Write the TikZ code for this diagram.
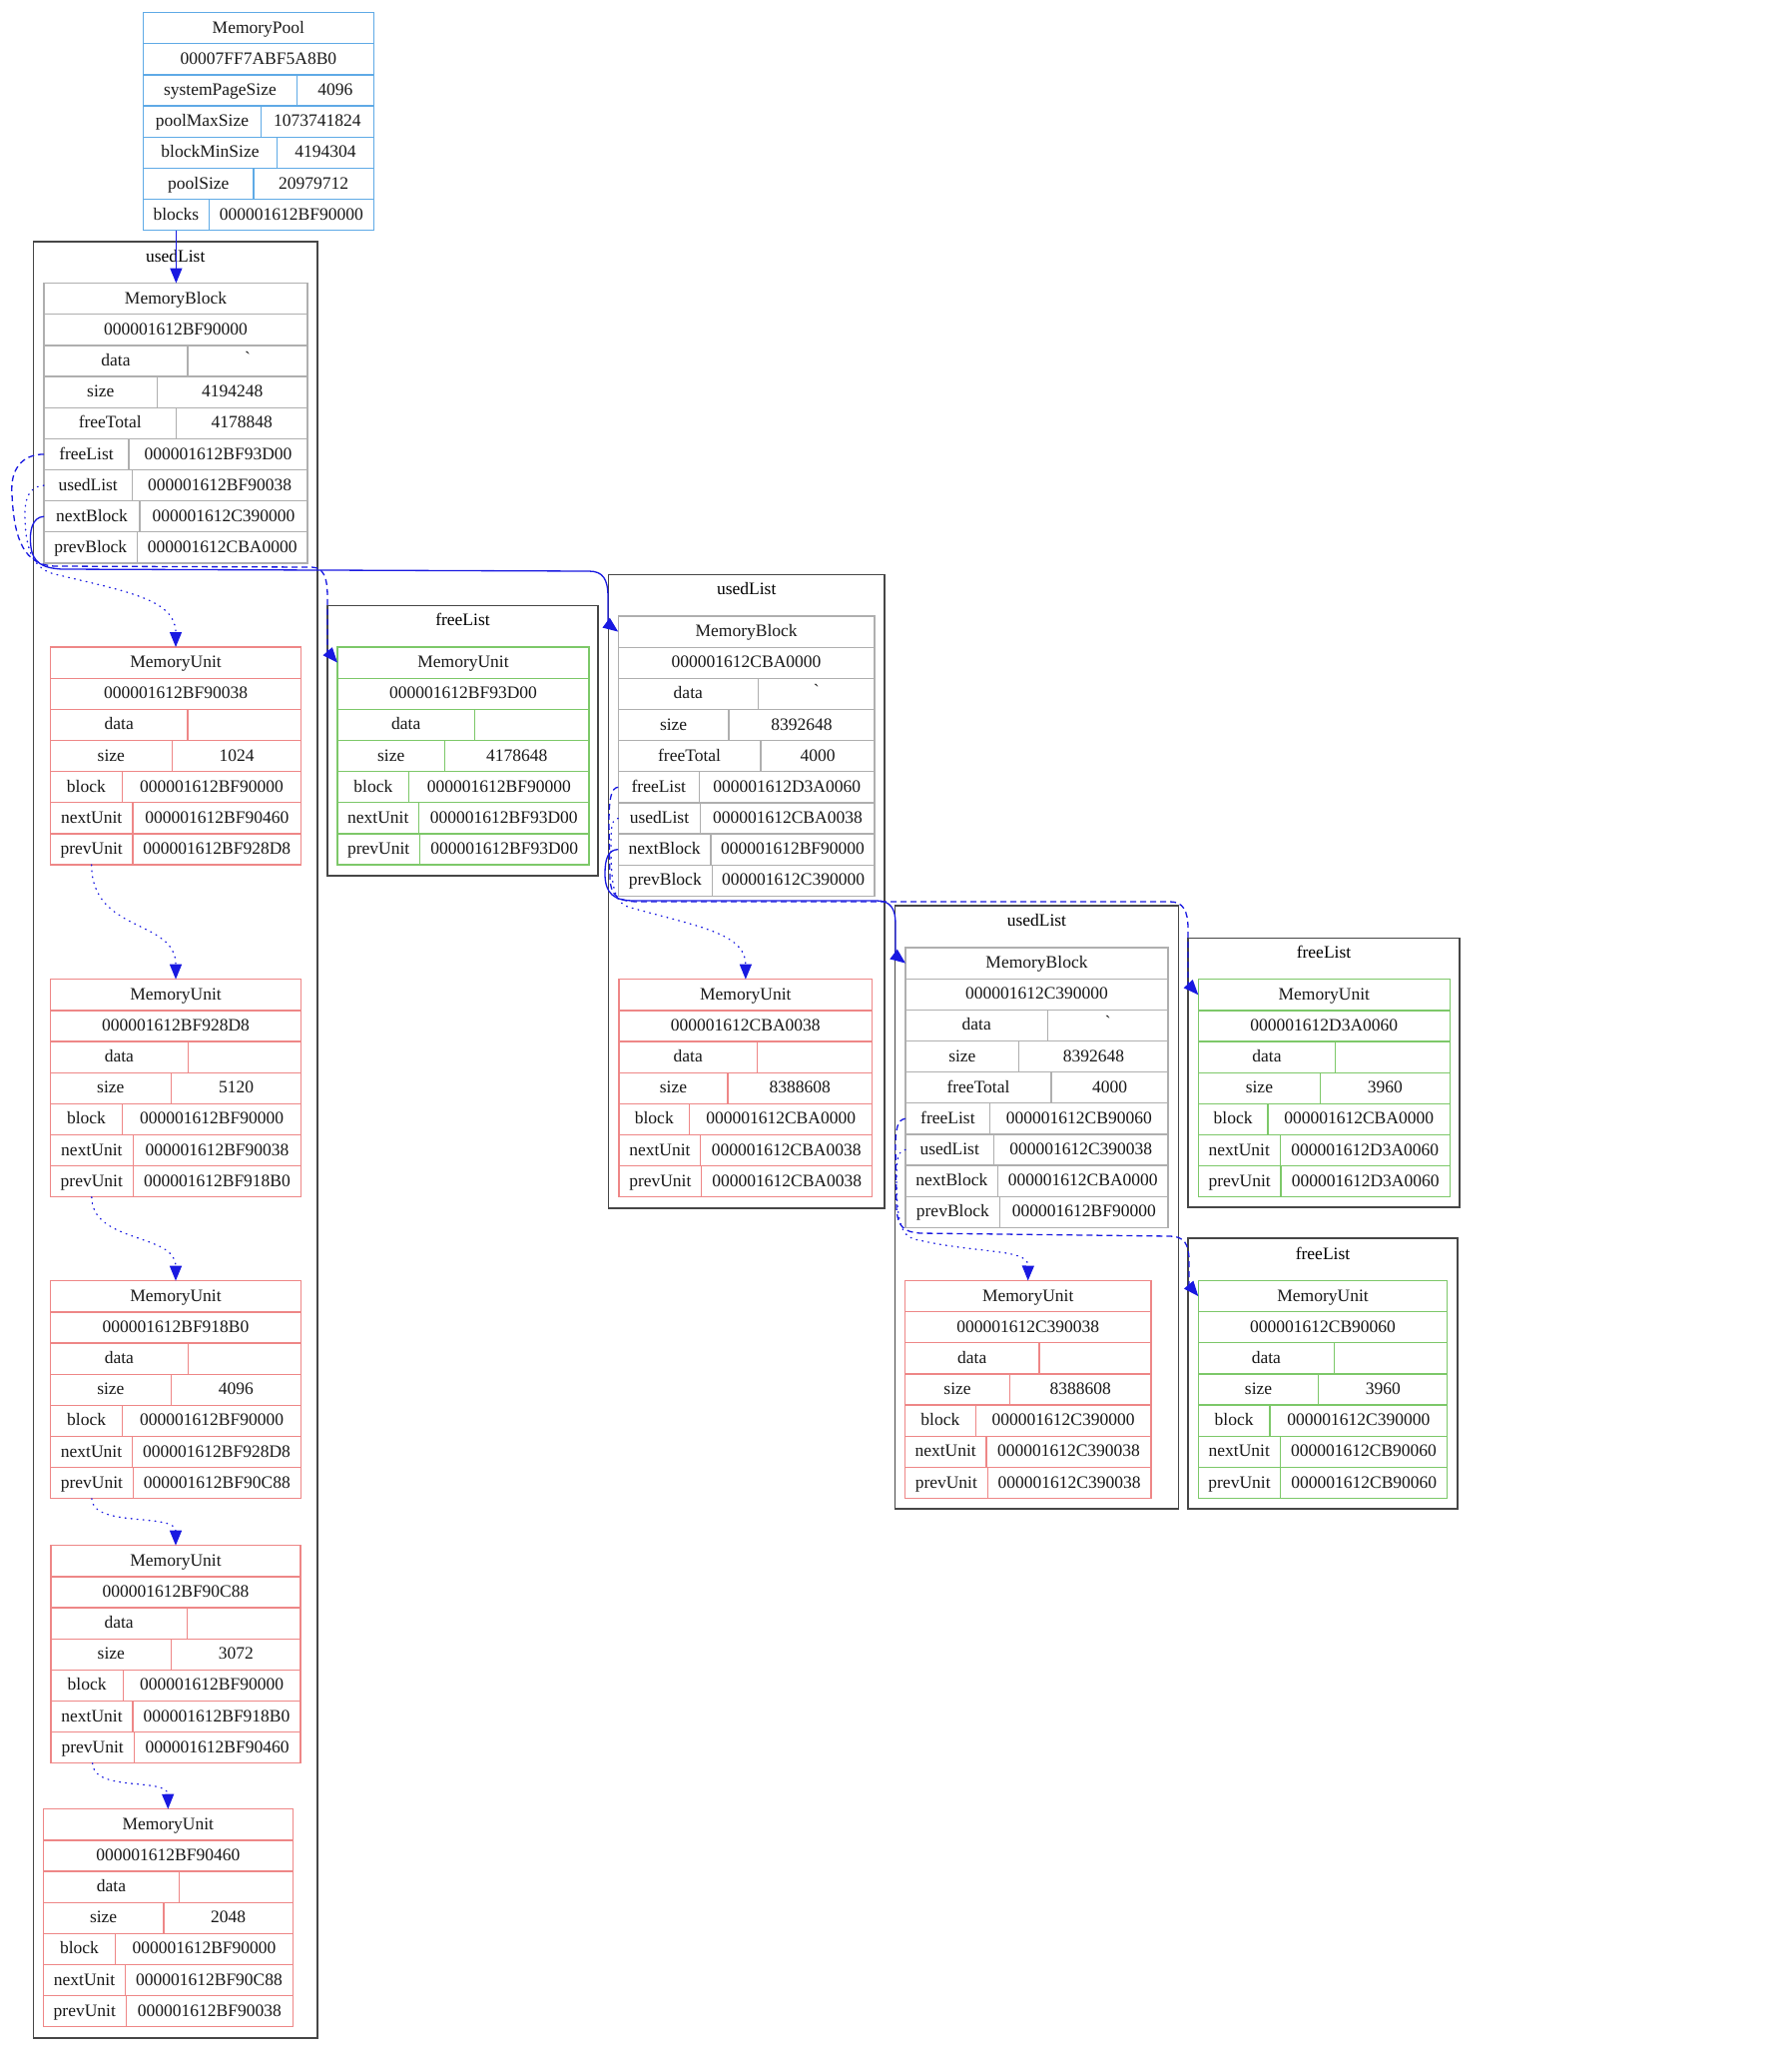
\documentclass[tikz,border=0pt]{standalone}
\usepackage{fontspec}
\setmainfont{Liberation Serif}
\usetikzlibrary{arrows.meta}
\definecolor{poolc}{RGB}{95,170,230}
\definecolor{grayc}{RGB}{175,175,175}
\definecolor{redc}{RGB}{238,135,135}
\definecolor{greenc}{RGB}{125,200,105}
\definecolor{clusc}{RGB}{70,70,70}
\definecolor{edgec}{RGB}{25,25,225}
\newcommand\gravemark{\raisebox{0.3ex}{\XeTeXglyph\XeTeXcharglyph"60\relax}}
\newcommand\recset[4]{\def\rxa{#1}\def\rxb{#2}\def\rtop{#3}\tikzset{cur/.style={draw=#4}}}
\newcommand\rowfull[3]{%
  \pgfmathsetmacro\yy{\rtop+#2*31.15}\pgfmathsetmacro\wa{(\rxb-\rxa)*0.5}%
  \node[cellbox,cur,minimum width=\wa pt,anchor=north west] (#1) at (\rxa,\yy) {#3};}
\newcommand\rowpair[5]{%
  \pgfmathsetmacro\yy{\rtop+#2*31.15}\pgfmathsetmacro\wa{(#3-\rxa)*0.5}\pgfmathsetmacro\wb{(\rxb-#3)*0.5}%
  \node[cellbox,cur,minimum width=\wa pt,anchor=north west] (#1l) at (\rxa,\yy) {#4};
  \node[cellbox,cur,minimum width=\wb pt,anchor=north west] (#1v) at (#3,\yy) {#5};}
\begin{document}
\begin{tikzpicture}[x=0.5pt,y=-0.5pt,
  font=\fontsize{8.75}{10}\selectfont,
  cellbox/.style={line width=0.65pt,inner sep=0pt,outer sep=0pt,minimum height=15.575pt,
    text height=6.6pt,text depth=1.5pt,text=black!90},
  clus/.style={draw=clusc,line width=0.75pt},
  lab/.style={text height=6.6pt,text depth=1.5pt,inner sep=0pt},
  conn/.style={draw=edgec,line width=0.65pt,-{Triangle[length=7.5pt,width=6pt]}},
  dashedconn/.style={conn,dash pattern=on 3pt off 2pt},
  dottedconn/.style={conn,dash pattern=on 0.4pt off 2.6pt,line cap=round}]
\fill[white] (0,0) rectangle (1794,2067);
\useasboundingbox (0,0) rectangle (1794,2067);

% clusters
\draw[clus] (33.5,242) rectangle (318,2041);
\node[lab] (c1lab) at (175.75,257) {usedList};
\draw[clus] (328,606.7) rectangle (599,877);
\node[lab] (c2lab) at (463.5,621.7) {freeList};
\draw[clus] (609.4,575.4) rectangle (886,1210);
\node[lab] (c3lab) at (747.7,590) {usedList};
\draw[clus] (896.4,907) rectangle (1180.4,1511);
\node[lab] (c4lab) at (1038.4,922.6) {usedList};
\draw[clus] (1190,939.4) rectangle (1462,1209);
\node[lab] (c5lab) at (1326,954) {freeList};
\draw[clus] (1190,1240) rectangle (1460,1511);
\node[lab] (c6lab) at (1325,1256) {freeList};

% MemoryPool
\recset{143.5}{374.3}{12.6}{poolc}
\rowfull{mp}{0}{MemoryPool}
\rowfull{mpa}{1}{00007FF7ABF5A8B0}
\rowpair{mpsp}{2}{297.4}{systemPageSize}{4096}
\rowpair{mpmax}{3}{261.4}{poolMaxSize}{1073741824}
\rowpair{mpbmin}{4}{277.5}{blockMinSize}{4194304}
\rowpair{mpps}{5}{254.1}{poolSize}{20979712}
\rowpair{mpbl}{6}{209.3}{blocks}{000001612BF90000}

% MemoryBlock 1
\recset{44}{308}{283.6}{grayc}
\rowfull{mb1}{0}{MemoryBlock}
\rowfull{mb1a}{1}{000001612BF90000}
\rowpair{mb1d}{2}{187.9}{data}{\gravemark}
\rowpair{mb1s}{3}{157.7}{size}{4194248}
\rowpair{mb1ft}{4}{176.4}{freeTotal}{4178848}
\rowpair{mb1fl}{5}{129}{freeList}{000001612BF93D00}
\rowpair{mb1ul}{6}{132.4}{usedList}{000001612BF90038}
\rowpair{mb1nb}{7}{140}{nextBlock}{000001612C390000}
\rowpair{mb1pb}{8}{137.4}{prevBlock}{000001612CBA0000}

% MemoryUnit 1
\recset{50.4}{301.7}{648}{redc}
\rowfull{mu1}{0}{MemoryUnit}
\rowfull{mu1a}{1}{000001612BF90038}
\rowpair{mu1d}{2}{188}{data}{}
\rowpair{mu1s}{3}{172.3}{size}{1024}
\rowpair{mu1b}{4}{122.3}{block}{000001612BF90000}
\rowpair{mu1nu}{5}{133}{nextUnit}{000001612BF90460}
\rowpair{mu1pu}{6}{133}{prevUnit}{000001612BF928D8}

% free MemoryUnit 1
\recset{338}{590}{648}{greenc}
\rowfull{mug1}{0}{MemoryUnit}
\rowfull{mug1a}{1}{000001612BF93D00}
\rowpair{mug1d}{2}{475.4}{data}{}
\rowpair{mug1s}{3}{445.5}{size}{4178648}
\rowpair{mug1b}{4}{409.8}{block}{000001612BF90000}
\rowpair{mug1nu}{5}{419.6}{nextUnit}{000001612BF93D00}
\rowpair{mug1pu}{6}{420.5}{prevUnit}{000001612BF93D00}

% MemoryBlock 3
\recset{619.2}{876}{617}{grayc}
\rowfull{mb3}{0}{MemoryBlock}
\rowfull{mb3a}{1}{000001612CBA0000}
\rowpair{mb3d}{2}{759.4}{data}{\gravemark}
\rowpair{mb3s}{3}{730}{size}{8392648}
\rowpair{mb3ft}{4}{762}{freeTotal}{4000}
\rowpair{mb3fl}{5}{700.4}{freeList}{000001612D3A0060}
\rowpair{mb3ul}{6}{701.8}{usedList}{000001612CBA0038}
\rowpair{mb3nb}{7}{712}{nextBlock}{000001612BF90000}
\rowpair{mb3pb}{8}{713.4}{prevBlock}{000001612C390000}

% MemoryUnit 2
\recset{50.4}{301.7}{980.7}{redc}
\rowfull{mu2}{0}{MemoryUnit}
\rowfull{mu2a}{1}{000001612BF928D8}
\rowpair{mu2d}{2}{188.3}{data}{}
\rowpair{mu2s}{3}{171.3}{size}{5120}
\rowpair{mu2b}{4}{122.7}{block}{000001612BF90000}
\rowpair{mu2nu}{5}{133.3}{nextUnit}{000001612BF90038}
\rowpair{mu2pu}{6}{133.3}{prevUnit}{000001612BF918B0}

% MemoryUnit of block 3
\recset{620}{873.7}{980.7}{redc}
\rowfull{mu3b}{0}{MemoryUnit}
\rowfull{mu3ba}{1}{000001612CBA0038}
\rowpair{mu3bd}{2}{758.5}{data}{}
\rowpair{mu3bs}{3}{729}{size}{8388608}
\rowpair{mu3bb}{4}{690.6}{block}{000001612CBA0000}
\rowpair{mu3bnu}{5}{701.8}{nextUnit}{000001612CBA0038}
\rowpair{mu3bpu}{6}{702.7}{prevUnit}{000001612CBA0038}

% MemoryBlock 4
\recset{907}{1170}{949}{grayc}
\rowfull{mb4}{0}{MemoryBlock}
\rowfull{mb4a}{1}{000001612C390000}
\rowpair{mb4d}{2}{1049.4}{data}{\gravemark}
\rowpair{mb4s}{3}{1020.8}{size}{8392648}
\rowpair{mb4ft}{4}{1053}{freeTotal}{4000}
\rowpair{mb4fl}{5}{991.8}{freeList}{000001612CB90060}
\rowpair{mb4ul}{6}{995.5}{usedList}{000001612C390038}
\rowpair{mb4nb}{7}{999.7}{nextBlock}{000001612CBA0000}
\rowpair{mb4pb}{8}{1001.7}{prevBlock}{000001612BF90000}

% free MemoryUnit 2
\recset{1200.3}{1452.3}{980.7}{greenc}
\rowfull{mug2}{0}{MemoryUnit}
\rowfull{mug2a}{1}{000001612D3A0060}
\rowpair{mug2d}{2}{1337.7}{data}{}
\rowpair{mug2s}{3}{1322.5}{size}{3960}
\rowpair{mug2b}{4}{1270}{block}{000001612CBA0000}
\rowpair{mug2nu}{5}{1282.2}{nextUnit}{000001612D3A0060}
\rowpair{mug2pu}{6}{1283}{prevUnit}{000001612D3A0060}

% MemoryUnit 3
\recset{50.5}{301.5}{1282.7}{redc}
\rowfull{mu3}{0}{MemoryUnit}
\rowfull{mu3a}{1}{000001612BF918B0}
\rowpair{mu3d}{2}{188.3}{data}{}
\rowpair{mu3s}{3}{171.3}{size}{4096}
\rowpair{mu3bk}{4}{122.7}{block}{000001612BF90000}
\rowpair{mu3nu}{5}{132.7}{nextUnit}{000001612BF928D8}
\rowpair{mu3pu}{6}{133.3}{prevUnit}{000001612BF90C88}

% MemoryUnit of block 4
\recset{906.4}{1153}{1282.5}{redc}
\rowfull{mu4b}{0}{MemoryUnit}
\rowfull{mu4ba}{1}{000001612C390038}
\rowpair{mu4bd}{2}{1041}{data}{}
\rowpair{mu4bs}{3}{1011.7}{size}{8388608}
\rowpair{mu4bb}{4}{977.3}{block}{000001612C390000}
\rowpair{mu4bnu}{5}{988}{nextUnit}{000001612C390038}
\rowpair{mu4bpu}{6}{989.3}{prevUnit}{000001612C390038}

% free MemoryUnit 3
\recset{1200.3}{1449.8}{1282.5}{greenc}
\rowfull{mug3}{0}{MemoryUnit}
\rowfull{mug3a}{1}{000001612CB90060}
\rowpair{mug3d}{2}{1336.4}{data}{}
\rowpair{mug3s}{3}{1320.8}{size}{3960}
\rowpair{mug3b}{4}{1272}{block}{000001612C390000}
\rowpair{mug3nu}{5}{1282.2}{nextUnit}{000001612CB90060}
\rowpair{mug3pu}{6}{1282.7}{prevUnit}{000001612CB90060}

% MemoryUnit 4
\recset{51}{301}{1547.7}{redc}
\rowfull{mu4}{0}{MemoryUnit}
\rowfull{mu4a}{1}{000001612BF90C88}
\rowpair{mu4d}{2}{187.3}{data}{}
\rowpair{mu4s}{3}{171.7}{size}{3072}
\rowpair{mu4bk}{4}{123.3}{block}{000001612BF90000}
\rowpair{mu4nu}{5}{133}{nextUnit}{000001612BF918B0}
\rowpair{mu4pu}{6}{134.3}{prevUnit}{000001612BF90460}

% MemoryUnit 5
\recset{43.3}{293.3}{1811.7}{redc}
\rowfull{mu5}{0}{MemoryUnit}
\rowfull{mu5a}{1}{000001612BF90460}
\rowpair{mu5d}{2}{179.7}{data}{}
\rowpair{mu5s}{3}{164}{size}{2048}
\rowpair{mu5bk}{4}{115.7}{block}{000001612BF90000}
\rowpair{mu5nu}{5}{125.7}{nextUnit}{000001612BF90C88}
\rowpair{mu5pu}{6}{126.3}{prevUnit}{000001612BF90038}

% connectors
\draw[conn] (mpbll.south) -- (mpbll.south |- mb1.north);

\draw[dashedconn] (mb1fll.west) .. controls (22,455) and (10,470) .. (12,495)
  .. controls (14,540) and (24,566) .. (55,567) -- (312,568)
  .. controls (324,568) and (328,578) .. (328,598) -- (328,640)
  .. controls (328,652) .. (mug1.west);
\draw[dottedconn] (mb1ull.west) .. controls (30,487) and (24,498) .. (25,520)
  .. controls (26,552) and (34,570) .. (55,575)
  .. controls (125,592) and (176,600) .. (mu1.north);
\draw[conn] (mb1nbl.west) .. controls (32,518) and (29,532) .. (31,548)
  .. controls (33,563) and (42,569) .. (62,570) -- (590,572)
  .. controls (604,572) and (609,580) .. (609,598) -- (609,615)
  .. controls (609,625) .. (mb3.west);

\draw[dottedconn] (mu1pul.south) .. controls (92,935) and (176,920) .. (mu2.north);
\draw[dottedconn] (mu2pul.south) .. controls (92,1245) and (176,1235) .. (mu3.north);
\draw[dottedconn] (mu3pul.south) .. controls (92,1530) and (176,1515) .. (mu4.north);
\draw[dottedconn] (mu4pul.south) .. controls (93,1795) and (168,1780) .. (mu5.north);

\draw[dashedconn] (mb3fll.west) .. controls (612,789) and (610,800) .. (610,825) -- (611,880)
  .. controls (612,898) and (620,903) .. (640,903) -- (1172,903)
  .. controls (1185,903) and (1190,912) .. (1190,930) -- (1190,972)
  .. controls (1190,985) .. (mug2.west);
\draw[dottedconn] (mb3ull.west) .. controls (613,820) and (612,828) .. (612,845)
  .. controls (612,892) and (616,905) .. (632,909)
  .. controls (700,928) and (747,935) .. (mu3b.north);
\draw[conn] (mb3nbl.west) .. controls (609,851) and (606,860) .. (606,875)
  .. controls (606,895) and (615,902) .. (635,902) -- (878,902)
  .. controls (892,902) and (897,910) .. (897,925) -- (897,947)
  .. controls (897,957) .. (mb4.west);

\draw[dashedconn] (mb4fll.west) .. controls (899,1121) and (897,1130) .. (897,1150) -- (898,1210)
  .. controls (899,1228) and (905,1234) .. (922,1235) -- (1172,1238)
  .. controls (1186,1238) and (1191,1246) .. (1191,1262) -- (1191,1275)
  .. controls (1191,1287) .. (mug3.west);
\draw[dottedconn] (mb4ull.west) .. controls (900,1152) and (898,1160) .. (898,1178)
  .. controls (898,1225) and (903,1237) .. (916,1241)
  .. controls (980,1256) and (1030,1250) .. (mu4b.north);
\end{tikzpicture}
\end{document}
